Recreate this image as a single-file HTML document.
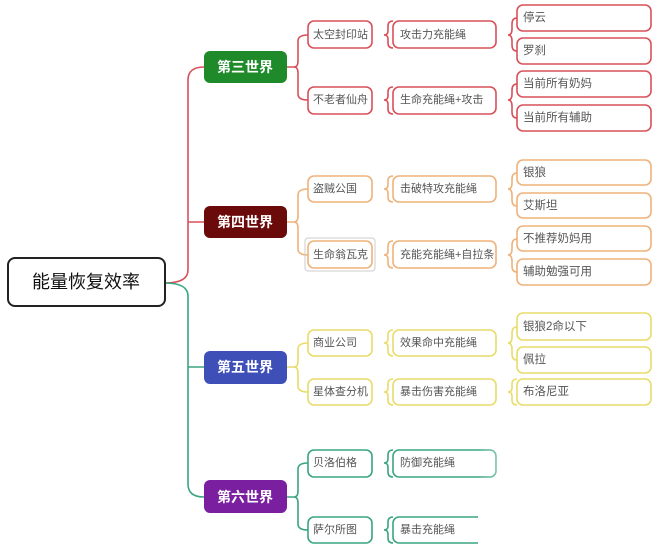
<!DOCTYPE html>
<html><head><meta charset="utf-8"><style>
html,body{margin:0;padding:0;background:#fff;}
svg{display:block;}
text{font-family:"Liberation Sans","Noto Sans CJK SC",sans-serif;font-size:11.5px;fill:#555;dominant-baseline:central;}
.s{font-size:11px;}
.w{fill:#fff;font-size:14px;font-weight:bold;}
.b{fill:#fff;stroke-width:1.6;}
.p{fill:none;stroke-width:1.6;}
</style></head><body>
<svg width="657" height="558" viewBox="0 0 657 558" xmlns="http://www.w3.org/2000/svg">
<defs>
<linearGradient id="fd" x1="0" y1="0" x2="1" y2="0">
<stop offset="0" stop-color="#fff" stop-opacity="0"/>
<stop offset="0.3" stop-color="#fff" stop-opacity="1"/>
</linearGradient>
</defs>
<path class="p" stroke="#d8505a" d="M165,283 Q188,283 188,270 L188,80 Q188,67 204,67 M188,222 L204,222"/>
<path class="p" stroke="#3aa57f" d="M165,283 Q188,283 188,296 L188,484 Q188,497 204,497 M188,367 L204,367"/>
<rect x="8" y="258" width="157" height="48" rx="7" fill="#fff" stroke="#222" stroke-width="2"/>
<text x="86" y="282" text-anchor="middle" style="font-size:18px;fill:#111">能量恢复效率</text>

<g stroke="#d8505a">
<path class="p" d="M287,67 L294,67 Q298,67 298,61 L298,41 Q298,35 308,35 M294,67 Q298,67 298,73 L298,94 Q298,100 308,100"/>
<path class="p" d="M393,21 Q388,21 388,26 L388,31 Q388,35 384,35 Q388,35 388,39 L388,43 Q388,48 393,48"/>
<path class="p" d="M393,87 Q388,87 388,92 L388,96 Q388,100 384,100 Q388,100 388,104 L388,109 Q388,114 393,114"/>
<path class="p" d="M508,35 Q512,35 512,29 L512,24 Q512,18 517,18 M508,35 Q512,35 512,41 L512,45 Q512,51 517,51"/>
<path class="p" d="M508,100 Q512,100 512,94 L512,90 Q512,84 517,84 M508,100 Q512,100 512,106 L512,112 Q512,118 517,118"/>
<rect class="b" x="308" y="21" width="64" height="27" rx="6"/>
<rect class="b" x="308" y="87" width="64" height="27" rx="6"/>
<rect class="b" x="393" y="21" width="103" height="27" rx="6"/>
<rect class="b" x="393" y="87" width="103" height="27" rx="6"/>
<rect class="b" x="517" y="5" width="134" height="26" rx="6"/>
<rect class="b" x="517" y="38" width="134" height="26" rx="6"/>
<rect class="b" x="517" y="71" width="134" height="26" rx="6"/>
<rect class="b" x="517" y="105" width="134" height="26" rx="6"/>
</g>
<rect x="204" y="51" width="83" height="32" rx="6" fill="#1e8a2a"/>
<text class="w" x="245" y="67" text-anchor="middle">第三世界</text>
<text class="s" x="313" y="35">太空封印站</text>
<text class="s" x="313" y="100">不老者仙舟</text>
<text class="s" x="400" y="35">攻击力充能绳</text>
<text class="s" x="400" y="100">生命充能绳+攻击</text>
<text x="523" y="18">停云</text>
<text x="523" y="51">罗刹</text>
<text x="523" y="84">当前所有奶妈</text>
<text x="523" y="118">当前所有辅助</text>

<g stroke="#eeb27a">
<path class="p" d="M287,222 L294,222 Q298,222 298,216 L298,195 Q298,189 308,189 M294,222 Q298,222 298,228 L298,249 Q298,255 308,255"/>
<path class="p" d="M393,176 Q388,176 388,181 L388,185 Q388,189 384,189 Q388,189 388,193 L388,197 Q388,202 393,202"/>
<path class="p" d="M393,241 Q388,241 388,246 L388,251 Q388,255 384,255 Q388,255 388,259 L388,263 Q388,268 393,268"/>
<path class="p" d="M508,189 Q512,189 512,183 L512,179 Q512,173 517,173 M508,189 Q512,189 512,195 L512,200 Q512,206 517,206"/>
<path class="p" d="M508,255 Q512,255 512,249 L512,245 Q512,239 517,239 M508,255 Q512,255 512,261 L512,266 Q512,272 517,272"/>
<rect class="b" x="308" y="176" width="64" height="26" rx="6"/>
<rect class="b" x="308" y="241" width="64" height="27" rx="6"/>
<rect class="b" x="393" y="176" width="103" height="26" rx="6"/>
<rect class="b" x="393" y="241" width="103" height="27" rx="6"/>
<rect class="b" x="517" y="160" width="134" height="25" rx="6"/>
<rect class="b" x="517" y="193" width="134" height="25" rx="6"/>
<rect class="b" x="517" y="226" width="134" height="25" rx="6"/>
<rect class="b" x="517" y="259" width="134" height="26" rx="6"/>
</g>
<rect x="305" y="238" width="70" height="33" rx="3" fill="none" stroke="#ccc" stroke-width="1"/>
<rect x="204" y="206" width="83" height="32" rx="6" fill="#6b0a0a"/>
<text class="w" x="245" y="222" text-anchor="middle">第四世界</text>
<text class="s" x="313" y="189">盗贼公国</text>
<text class="s" x="313" y="255">生命翁瓦克</text>
<text class="s" x="400" y="189">击破特攻充能绳</text>
<text class="s" x="400" y="255">充能充能绳+自拉条</text>
<text x="523" y="173">银狼</text>
<text x="523" y="206">艾斯坦</text>
<text x="523" y="239">不推荐奶妈用</text>
<text x="523" y="272">辅助勉强可用</text>

<g stroke="#e8dc6a">
<path class="p" d="M287,367 L294,367 Q298,367 298,361 L298,349 Q298,343 308,343 M294,367 Q298,367 298,373 L298,386 Q298,392 308,392"/>
<path class="p" d="M393,330 Q388,330 388,335 L388,339 Q388,343 384,343 Q388,343 388,347 L388,351 Q388,356 393,356"/>
<path class="p" d="M393,379 Q388,379 388,384 L388,388 Q388,392 384,392 Q388,392 388,396 L388,400 Q388,405 393,405"/>
<path class="p" d="M508,343 Q512,343 512,337 L512,333 Q512,327 517,327 M508,343 Q512,343 512,349 L512,354 Q512,360 517,360"/>
<path class="p" d="M517,379 Q512,379 512,384 L512,388 Q512,392 508,392 Q512,392 512,396 L512,400 Q512,405 517,405"/>
<rect class="b" x="308" y="330" width="64" height="26" rx="6"/>
<rect class="b" x="308" y="379" width="64" height="26" rx="6"/>
<rect class="b" x="393" y="330" width="103" height="26" rx="6"/>
<rect class="b" x="393" y="379" width="103" height="26" rx="6"/>
<rect class="b" x="517" y="313" width="134" height="27" rx="6"/>
<rect class="b" x="517" y="347" width="134" height="26" rx="6"/>
<rect class="b" x="517" y="379" width="134" height="26" rx="6"/>
</g>
<rect x="204" y="351" width="83" height="33" rx="6" fill="#3f4fb8"/>
<text class="w" x="245" y="367" text-anchor="middle">第五世界</text>
<text class="s" x="313" y="343">商业公司</text>
<text class="s" x="313" y="392">星体查分机</text>
<text class="s" x="400" y="343">效果命中充能绳</text>
<text class="s" x="400" y="392">暴击伤害充能绳</text>
<text x="523" y="327">银狼2命以下</text>
<text x="523" y="360">佩拉</text>
<text x="523" y="392">布洛尼亚</text>

<g stroke="#3aa57f">
<path class="p" d="M287,497 L294,497 Q298,497 298,491 L298,469 Q298,463 308,463 M294,497 Q298,497 298,503 L298,524 Q298,530 308,530"/>
<path class="p" d="M393,450 Q388,450 388,455 L388,459 Q388,463 384,463 Q388,463 388,467 L388,472 Q388,477 393,477"/>
<path class="p" d="M393,517 Q388,517 388,522 L388,526 Q388,530 384,530 Q388,530 388,534 L388,538 Q388,543 393,543"/>
<rect class="b" x="308" y="450" width="64" height="27" rx="6"/>
<rect class="b" x="308" y="517" width="64" height="26" rx="6"/>
<rect class="b" x="393" y="450" width="103" height="27" rx="6"/>
<rect class="b" x="393" y="517" width="103" height="26" rx="6"/>
</g>
<rect x="478" y="440" width="179" height="118" fill="url(#fd)"/>
<rect x="478" y="510" width="179" height="48" fill="#fff"/>
<rect x="204" y="480" width="83" height="33" rx="6" fill="#7a1fa0"/>
<text class="w" x="245" y="497" text-anchor="middle">第六世界</text>
<text class="s" x="313" y="463">贝洛伯格</text>
<text class="s" x="313" y="530">萨尔所图</text>
<text class="s" x="400" y="463">防御充能绳</text>
<text class="s" x="400" y="530">暴击充能绳</text>
</svg>
</body></html>
